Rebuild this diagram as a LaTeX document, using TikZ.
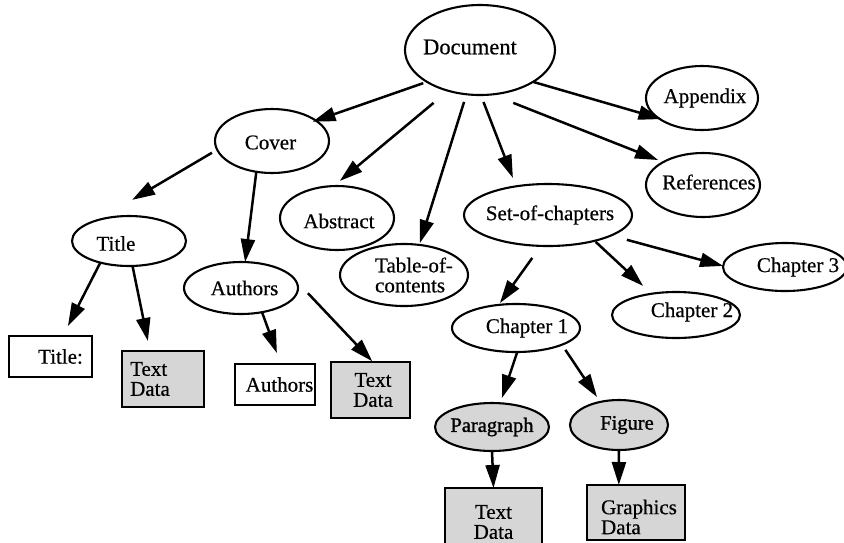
\documentclass[tikz,border=0pt]{standalone}
\usepackage{fontspec}
\setmainfont{Liberation Serif}[FakeBold=0.5]
\newfontfamily\heavyfont{Liberation Serif}[FakeBold=1.2]
\usetikzlibrary{shapes.geometric,arrows.meta}

\tikzset{
  oval/.style={ellipse, draw, line width=2.1pt, inner sep=0pt, outer sep=0pt},
  rbox/.style={rectangle, draw, line width=2.1pt, inner sep=0pt, outer sep=0pt},
  shaded/.style={fill=black!16},
  txt/.style={inner sep=0pt, font=\fontsize{21}{20}\selectfont, align=left},
  bigtxt/.style={txt, font=\fontsize{22.5}{22}\selectfont},
  boldtxt/.style={txt, font=\heavyfont\fontsize{20.5}{20}\selectfont},
  link/.style={line width=2.5pt, -{Triangle[length=23pt,width=14pt]}},
}

\begin{document}
\begin{tikzpicture}[x=1pt,y=-1pt]
\useasboundingbox (0,0) rectangle (844,542);

% ellipses: the document and its parts
\node[oval, minimum width=150pt, minimum height=90pt,
  label={[bigtxt, xshift=-10pt, yshift=3pt]center:Document}] (doc) at (480,50) {};
\node[oval, minimum width=114pt, minimum height=64pt,
  label={[txt, xshift=-1.5pt, yshift=-1.5pt]center:Cover}] (cover) at (272,141) {};
\node[oval, minimum width=114pt, minimum height=50pt,
  label={[txt, xshift=-13pt, yshift=-2.5pt]center:Title}] (title) at (129,241) {};
\node[oval, minimum width=114pt, minimum height=52pt,
  label={[txt, xshift=3.5pt]center:Authors}] (authors) at (241,288) {};
\node[oval, minimum width=114pt, minimum height=64pt,
  label={[txt, xshift=2pt, yshift=-3pt]center:Abstract}] (abstract) at (337,218) {};
\node[oval, minimum width=128pt, minimum height=62pt,
  label={[txt, xshift=10pt]center:{Table-of-\\contents}}] (toc) at (404,275) {};
\node[oval, minimum width=168pt, minimum height=62pt,
  label={[txt, xshift=2pt]center:Set-of-chapters}] (soc) at (548,215) {};
\node[oval, minimum width=114pt, minimum height=64pt,
  label={[txt, xshift=6pt, yshift=3pt]center:References}] (refs) at (703,185) {};
\node[oval, minimum width=112pt, minimum height=64pt,
  label={[txt, xshift=3pt]center:Appendix}] (app) at (702,98) {};
\node[oval, minimum width=124pt, minimum height=48pt,
  label={[txt, xshift=13pt]center:Chapter 3}] (ch3) at (785,267) {};
\node[oval, minimum width=128pt, minimum height=46pt,
  label={[txt, xshift=16pt, yshift=3pt]center:Chapter 2}] (ch2) at (676,315) {};
\node[oval, minimum width=128pt, minimum height=48pt,
  label={[txt, xshift=11pt]center:Chapter 1}] (ch1) at (516,328) {};
\node[oval, shaded, minimum width=114pt, minimum height=48pt,
  label={[boldtxt]center:Paragraph}] (para) at (492,427) {};
\node[oval, shaded, minimum width=98pt, minimum height=50pt,
  label={[boldtxt, xshift=8pt]center:Figure}] (fig) at (619,425) {};

% boxes: contents and data
\node[rbox, minimum width=83pt, minimum height=41pt,
  label={[txt, xshift=10pt]center:{Title:}}] (titlebox) at (50.5,356.5) {};
\node[rbox, shaded, minimum width=82pt, minimum height=56pt,
  label={[txt, xshift=-13pt]center:{Text\\Data}}] (td1) at (163,379) {};
\node[rbox, minimum width=80pt, minimum height=41pt,
  label={[txt, xshift=4.5pt]center:Authors}] (authbox) at (275,384.5) {};
\node[rbox, shaded, minimum width=79pt, minimum height=56pt,
  label={[txt, align=center, xshift=2.5pt]center:{Text\\Data}}] (td2) at (370.5,390) {};
\node[rbox, shaded, minimum width=97pt, minimum height=62pt,
  label={[txt, align=center, yshift=-3pt]center:{Text\\Data}}] (td3) at (493.5,519) {};
\node[rbox, shaded, minimum width=98pt, minimum height=55pt,
  label={[txt, xshift=3pt, yshift=-4.5pt]center:{Graphics\\Data}}] (gd) at (636,512.5) {};

% connectors
\draw[link, shorten <=4pt, shorten >=-3.5pt] (doc.211) -- (cover.25);
\draw[link, shorten <=19pt, shorten >=8pt] (doc.232) -- (abstract.96);
\draw[link, shorten <=8pt, shorten >=2pt] (doc.253) -- (toc.63);
\draw[link, shorten <=7.5pt, shorten >=9pt] (doc.271) -- (soc.138);
\draw[link, shorten <=23pt, shorten >=5.6pt] (doc.285) -- (refs.150);
\draw[link, shorten >=-3pt] (doc.329) -- (app.205);
\draw[link, shorten <=6pt, shorten >=39.7pt] (cover.189) -- (title.146);
\draw[link] (cover.243) -- (authors.81);
\draw[link, shorten >=11.2pt] (title.217) -- (titlebox.59);
\draw[link, shorten >=10.2pt] (title.278) -- (td1.115);
\draw[link, shorten >=11.7pt] (authors.311) -- (authbox.74);
\draw[link, shorten <=20pt, shorten >=1pt] (authors.10) -- (td2.85);
\draw[link, shorten <=14.8pt, shorten >=2.3pt] (soc.257) -- (ch1.127);
\draw[link, shorten <=1.5pt, shorten >=11.5pt] (soc.331) -- (ch2.139);
\draw[link, shorten <=16.4pt] (soc.342) -- (ch3.179);
\draw[link, shorten >=5.5pt] (ch1.273) -- (para.71);
\draw[link, shorten <=6.2pt, shorten >=5.9pt] (ch1.340) -- (fig.129);
\draw[link] (para.south) -- (td3.north);
\draw[link] (fig.south) -- (gd.122);
\end{tikzpicture}
\end{document}
